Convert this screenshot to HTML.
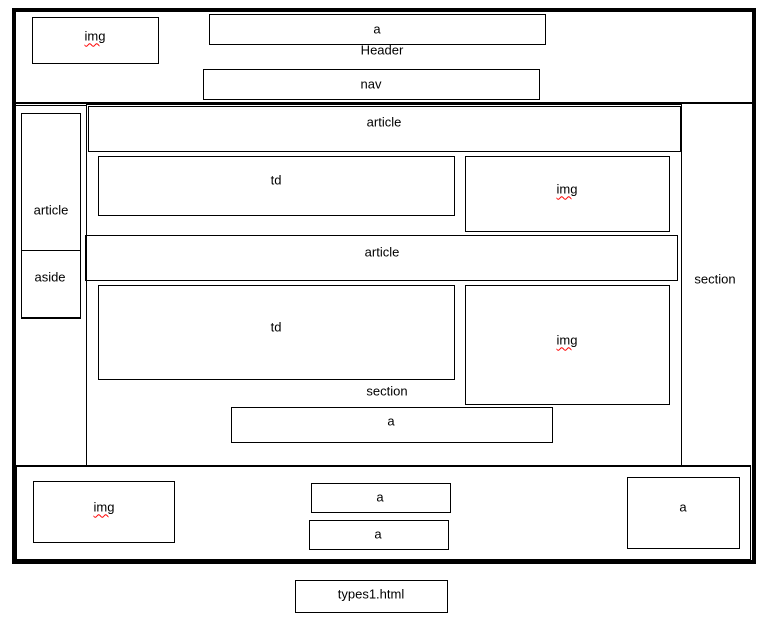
<!DOCTYPE html>
<html><head><meta charset="utf-8"><style>
body{margin:0;width:766px;height:624px;background:#fff;position:relative;overflow:hidden;font-family:"Liberation Sans",sans-serif;font-size:13px;color:#000}
.b{position:absolute;border:1px solid #000;box-sizing:border-box}
.t{position:absolute;transform:translate(-50%,-50%);white-space:nowrap}
.sq{text-decoration:underline wavy red;text-decoration-thickness:1px;text-underline-offset:2px}
</style></head><body>
<div class="b" style="left:12px;top:8px;width:744px;height:556px;border-width:4px"></div>
<div style="position:absolute;left:14px;top:102px;width:738px;height:2px;background:#000"></div>
<!-- header -->
<div class="b" style="left:32px;top:17px;width:127px;height:47px"></div>
<div class="t sq" style="left:95px;top:36px">img</div>
<div class="b" style="left:209px;top:14px;width:337px;height:31px"></div>
<div class="t" style="left:377px;top:29px">a</div>
<div class="t" style="left:382px;top:50px">Header</div>
<div class="b" style="left:203px;top:69px;width:337px;height:31px"></div>
<div class="t" style="left:371px;top:84px">nav</div>
<!-- left column -->
<div class="b" style="left:15px;top:105px;width:72px;height:361px"></div>
<div class="b" style="left:21px;top:113px;width:60px;height:206px"></div>
<div style="position:absolute;left:21px;top:250px;width:60px;height:1px;background:#000"></div>
<div style="position:absolute;left:21px;top:317px;width:60px;height:1px;background:#000"></div>
<div class="t" style="left:51px;top:210px">article</div>
<div class="t" style="left:50px;top:277px">aside</div>
<!-- middle section -->
<div class="b" style="left:86px;top:104px;width:596px;height:362px"></div>
<div class="b" style="left:88px;top:106px;width:593px;height:46px"></div>
<div class="t" style="left:384px;top:122px">article</div>
<div class="b" style="left:98px;top:156px;width:357px;height:60px"></div>
<div class="t" style="left:276px;top:180px">td</div>
<div class="b" style="left:465px;top:156px;width:205px;height:76px"></div>
<div class="t sq" style="left:567px;top:189px">img</div>
<div class="b" style="left:85px;top:235px;width:593px;height:46px"></div>
<div class="t" style="left:382px;top:252px">article</div>
<div class="b" style="left:98px;top:285px;width:357px;height:95px"></div>
<div class="t" style="left:276px;top:327px">td</div>
<div class="b" style="left:465px;top:285px;width:205px;height:120px"></div>
<div class="t sq" style="left:567px;top:340px">img</div>
<div class="t" style="left:387px;top:391px">section</div>
<div class="b" style="left:231px;top:407px;width:322px;height:36px"></div>
<div class="t" style="left:391px;top:421px">a</div>
<div class="t" style="left:715px;top:279px">section</div>
<!-- footer -->
<div class="b" style="left:16px;top:465px;width:735px;height:95px;border-top-width:2px"></div>
<div class="b" style="left:33px;top:481px;width:142px;height:62px"></div>
<div class="t sq" style="left:104px;top:507px">img</div>
<div class="b" style="left:311px;top:483px;width:140px;height:30px"></div>
<div class="t" style="left:380px;top:497px">a</div>
<div class="b" style="left:309px;top:520px;width:140px;height:30px"></div>
<div class="t" style="left:378px;top:534px">a</div>
<div class="b" style="left:627px;top:477px;width:113px;height:72px"></div>
<div class="t" style="left:683px;top:507px">a</div>
<div class="b" style="left:295px;top:580px;width:153px;height:33px"></div>
<div class="t" style="left:371px;top:594px">types1.html</div>
</body></html>
